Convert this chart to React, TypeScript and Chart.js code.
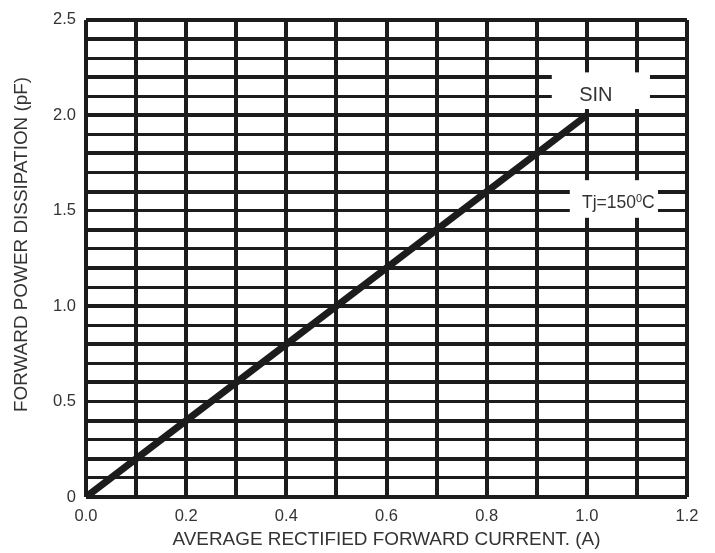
import { useEffect, useRef } from 'react';
import { Chart, registerables } from 'chart.js';

Chart.register(...registerables);

// ---- data ----
const currentA = [0.0, 1.0];
const powerDissipation = [0.0, 2.0];

const xTickLabels = ['0.0', '0.2', '0.4', '0.6', '0.8', '1.0', '1.2'];
const yTickLabels = ['0', '0.5', '1.0', '1.5', '2.0', '2.5'];

const xTitle = 'AVERAGE RECTIFIED FORWARD CURRENT. (A)';
const yTitle = 'FORWARD POWER DISSIPATION (pF)';

const sinLabel = 'SIN';
const tjLabelMain = 'Tj=150';
const tjLabelSup = '0';
const tjLabelTail = 'C';

// ---- styling / annotation placement (data units) ----
const FONT = "'Liberation Sans', Arial, Helvetica, sans-serif";
const INK = '#1c1c1c';
const TEXT = '#333333';

const sinBox = { x0: 0.93, x1: 1.126, y0: 2.033, y1: 2.225 };
const tjBox = { x0: 0.966, x1: 1.142, y0: 1.463, y1: 1.66 };
const sinPos = { x: 1.018, y: 2.076 };
const tjPos = { x: 1.063, y: 1.515 };

const fmtX = (v: number) => v.toFixed(1);
const fmtY = (v: number) => (Math.abs(v) < 1e-9 ? '0' : v.toFixed(1));

const labelPlugin = {
  id: 'chartLabels',
  afterDatasetsDraw(chart: any) {
    const { ctx } = chart;
    const x = chart.scales.x;
    const y = chart.scales.y;
    ctx.save();
    ctx.fillStyle = '#ffffff';
    for (const b of [sinBox, tjBox]) {
      const px0 = x.getPixelForValue(b.x0);
      const px1 = x.getPixelForValue(b.x1);
      const py0 = y.getPixelForValue(b.y1);
      const py1 = y.getPixelForValue(b.y0);
      ctx.fillRect(px0, py0, px1 - px0, py1 - py0);
    }
    ctx.fillStyle = TEXT;
    ctx.textBaseline = 'alphabetic';
    ctx.textAlign = 'center';
    ctx.font = `20px ${FONT}`;
    ctx.fillText(sinLabel, x.getPixelForValue(sinPos.x), y.getPixelForValue(sinPos.y));

    const big = `17.5px ${FONT}`;
    const small = `11px ${FONT}`;
    ctx.font = big;
    const w1 = ctx.measureText(tjLabelMain).width;
    const w3 = ctx.measureText(tjLabelTail).width;
    ctx.font = small;
    const w2 = ctx.measureText(tjLabelSup).width;
    const total = w1 + w2 + w3;
    let cx = x.getPixelForValue(tjPos.x) - total / 2;
    const by = y.getPixelForValue(tjPos.y);
    ctx.textAlign = 'left';
    ctx.font = big;
    ctx.fillText(tjLabelMain, cx, by);
    cx += w1;
    ctx.font = small;
    ctx.fillText(tjLabelSup, cx, by - 5.5);
    cx += w2;
    ctx.font = big;
    ctx.fillText(tjLabelTail, cx, by);
    ctx.restore();
  },
  afterDraw(chart: any) {
    const { ctx, chartArea } = chart;
    ctx.save();
    ctx.translate(27, (chartArea.top + chartArea.bottom) / 2 - 14);
    ctx.rotate(-Math.PI / 2);
    ctx.font = `18.9px ${FONT}`;
    ctx.fillStyle = TEXT;
    ctx.textAlign = 'center';
    ctx.textBaseline = 'alphabetic';
    ctx.fillText(yTitle, 0, 0);
    ctx.restore();
  },
};

export default function App() {
  const canvasRef = useRef<HTMLCanvasElement | null>(null);

  useEffect(() => {
    document.body.style.margin = '0';
    const canvas = canvasRef.current;
    if (!canvas) return;
    const chart = new Chart(canvas, {
      type: 'line',
      data: {
        datasets: [
          {
            data: currentA.map((v, i) => ({ x: v, y: powerDissipation[i] })),
            borderColor: INK,
            borderWidth: 7,
            borderCapStyle: 'butt',
            pointRadius: 0,
            tension: 0,
            fill: false,
          },
        ],
      },
      options: {
        animation: false,
        responsive: true,
        maintainAspectRatio: false,
        events: [],
        layout: { padding: { top: 15, right: 28, left: 0, bottom: 0 } },
        plugins: {
          legend: { display: false },
          tooltip: { enabled: false },
          title: { display: false },
        },
        scales: {
          x: {
            type: 'linear',
            min: 0,
            max: 1.2,
            afterFit: (s: any) => {
              s.height = 56;
            },
            border: { display: false },
            grid: {
              color: INK,
              lineWidth: 4,
              drawTicks: false,
            },
            ticks: {
              stepSize: 0.1,
              autoSkip: false,
              maxRotation: 0,
              padding: 10,
              color: TEXT,
              font: { family: FONT, size: 16.5 },
              callback: (v: any) => {
                const s = fmtX(Number(v));
                return xTickLabels.includes(s) ? s : '';
              },
            },
            title: {
              display: true,
              text: xTitle,
              color: TEXT,
              font: { family: FONT, size: 18.9 },
              padding: { top: 0, bottom: 2.2 },
            },
          },
          y: {
            type: 'linear',
            min: 0,
            max: 2.5,
            afterFit: (s: any) => {
              s.width = 86;
            },
            border: { display: false },
            grid: {
              color: INK,
              lineWidth: (c: any) => {
                const t = Math.round(Number(c.tick?.value ?? 0) * 10);
                return t % 2 === 0 || t === 25 ? 4 : 3;
              },
              drawTicks: false,
            },
            ticks: {
              stepSize: 0.1,
              autoSkip: false,
              padding: 10,
              color: TEXT,
              font: { family: FONT, size: 16.5 },
              callback: (v: any) => {
                const s = fmtY(Number(v));
                return yTickLabels.includes(s) ? s : '';
              },
            },
          },
        },
      },
      plugins: [labelPlugin],
    } as any);
    return () => chart.destroy();
  }, []);

  return (
    <div style={{ position: 'relative', width: 715, height: 553 }}>
      <canvas ref={canvasRef} />
    </div>
  );
}
